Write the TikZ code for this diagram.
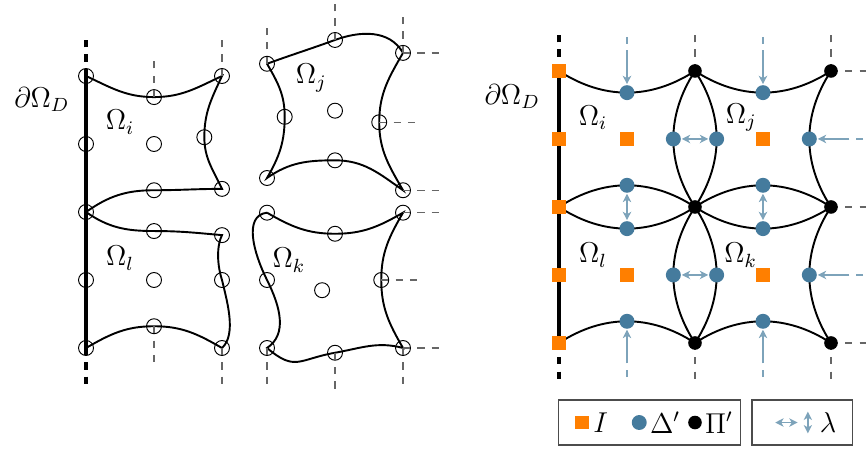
\documentclass[tikz,border=0pt]{standalone}
\usetikzlibrary{arrows.meta,positioning}
\definecolor{feorange}{HTML}{FF7F00}
\definecolor{feblue}{HTML}{457B9D}
\definecolor{muted}{HTML}{666666}

\begin{document}
\begin{tikzpicture}[font=\large,
    dofc/.style={circle, draw, thin, inner sep=0pt, minimum size=0.22cm},
    isq/.style={rectangle, fill=feorange, inner sep=0pt, minimum size=0.2cm},
    dualc/.style={circle, fill=feblue, inner sep=0pt, minimum size=0.22cm},
    primc/.style={circle, fill=black, inner sep=0pt, minimum size=0.2cm},
    side/.style={thick},
    dbnd/.style={line width=1.5pt},
    cutl/.style={dashed, muted, line width=0.6pt},
    lamarr/.style={{Stealth[length=3.5pt,width=3.5pt,inset=1pt]}-{Stealth[length=3.5pt,width=3.5pt,inset=1pt]},
                   feblue!70, line width=0.6pt},
    lamin/.style={-{Stealth[length=3.5pt,width=3.5pt,inset=1pt]}, feblue!70, line width=0.6pt,
                  dash pattern=on 0.1cm off 0.1cm on 3cm},
    legbox/.style={draw=black!70, line width=0.6pt, minimum height=0.66cm}]
  \useasboundingbox (-1.265,-1.471) rectangle (11.471,5.118);

  % left: overlapping subdomains Omega_i, Omega_l
  \foreach \n/\p in {itl/{0,4}, itm/{1,3.69}, itr/{2,4}, iml/{0,3}, imm/{1,3}, imr/{1.74,3.1},
                     ibl/{0,2}, ibm/{1,2.32}, ibr/{2,2.34}, ltm/{1,1.72}, ltr/{2,1.66}, lml/{0,1},
                     lmm/{1,1}, lmr/{2,1}, lbl/{0,0}, lbm/{1,0.32}, lbr/{2,0}}
    \node[dofc] (\n) at (\p) {};
  \draw[side] (itl.center) to[out=-25,in=180] (itm.center) to[out=0,in=-155] (itr.center)
              to[out=-115,in=90] (imr.center) to[out=-90,in=115] (ibr.center)
              to[out=180,in=0] (ibm.center) to[out=180,in=35] (ibl.center);
  \draw[side] (ibl.center) to[out=-35,in=180] (ltm.center) to[out=0,in=175] (ltr.center)
              .. controls (1.9,1.45) and (1.95,1.15) .. (lmr.center)
              .. controls (2.07,0.7) and (2.22,0.2) .. (lbr.center)
              to[out=150,in=0] (lbm.center) to[out=180,in=30] (lbl.center);
  \draw[dbnd] (itl.center) -- (lbl.center);
  \draw[dbnd, dashed] (itl.center) -- ++(0,0.57);
  \draw[dbnd, dashed] (lbl.center) -- ++(0,-0.59);
  \foreach \n/\d in {itm/{0,0.55}, itr/{0,0.57}, lbm/{0,-0.58}, lbr/{0,-0.59}}
    \draw[cutl] (\n.center) -- ++(\d);
  \node[anchor=east] (dirL) at (-0.12,3.65) {$\partial\Omega_D$};
  \node (labiL) at (0.5,3.32) {$\Omega_i$};
  \node (lablL) at (0.5,1.32) {$\Omega_l$};

  % left: overlapping subdomains Omega_j, Omega_k
  \begin{scope}[shift={(2.662,0)}]
    \foreach \n/\p in {jtl/{0,4.18}, jtm/{1,4.53}, jtr/{2,4.34}, jml/{0.26,3.4}, jmm/{1,3.49},
                       jmr/{1.65,3.32}, jbl/{0,2.5}, jbm/{1,2.76}, jbr/{2,2.32},
                       ktl/{0,1.99}, ktm/{1,1.68}, ktr/{2,1.99}, kml/{0,1}, kmm/{0.81,0.85},
                       kmr/{1.68,1}, kbl/{0,0}, kbm/{1,-0.07}, kbr/{2,0}}
      \node[dofc] (\n) at (\p) {};
    \draw[side] (jtl.center) to[out=20,in=200] (jtm.center) to[out=20,in=120] (jtr.center)
                to[out=-120,in=90] (jmr.center) to[out=-90,in=120] (jbr.center)
                to[out=145,in=0] (jbm.center) to[out=180,in=35] (jbl.center)
                to[out=60,in=-90] (jml.center) to[out=90,in=-60] (jtl.center);
    \draw[side] (ktl.center) to[out=-30,in=180] (ktm.center) to[out=0,in=-150] (ktr.center)
                to[out=-120,in=90] (kmr.center) to[out=-90,in=120] (kbr.center)
                to[out=165,in=10] (kbm.center) to[out=190,in=-40,looseness=1.4] (kbl.center)
                .. controls (0.3,0.2) and (0.2,0.6) .. (kml.center)
                .. controls (-0.2,1.4) and (-0.35,1.95) .. (ktl.center);
    \foreach \n/\d in {jtl/{0,0.57}, jtm/{0,0.6}, jtr/{0,0.59}, jtr/{0.55,0}, jmr/{0.57,0},
                       jbr/{0.55,0}, ktr/{0.55,0}, kmr/{0.57,0}, kbr/{0.55,0}, kbr/{0,-0.59},
                       kbm/{0,-0.59}, kbl/{0,-0.59}}
      \draw[cutl] (\n.center) -- ++(\d);
    \node (labjL) at (0.65,3.97) {$\Omega_j$};
    \node (labkL) at (0.32,1.29) {$\Omega_k$};
  \end{scope}

  % right: non-overlapping subdomains with dual/primal unknowns
  \begin{scope}[shift={(6.956,0.074)}]
    \foreach \x in {0,...,4} \foreach \y in {0,...,4} \coordinate (g\x\y) at (\x,\y);
    \draw[side] (g04) to[bend right=33] node[dualc] (it) {} (g24)
                      to[bend right=33] node[dualc] (ir) {} (g22);
    \draw[side] (g02) to[bend left=33] node[dualc] (ib) {} (g22);
    \draw[side] (g02) to[bend right=33] node[dualc] (lt) {} (g22);
    \draw[side] (g22) to[bend right=33] node[dualc] (lr) {} (g20);
    \draw[side] (g00) to[bend left=33] node[dualc] (lb) {} (g20);
    \draw[side] (g24) to[bend right=33] node[dualc] (jt) {} (g44)
                      to[bend right=33] node[dualc] (jr) {} (g42);
    \draw[side] (g24) to[bend left=33] node[dualc] (jl) {} (g22);
    \draw[side] (g22) to[bend left=33] node[dualc] (jb) {} (g42);
    \draw[side] (g22) to[bend right=33] node[dualc] (kt) {} (g42)
                      to[bend right=33] node[dualc] (kr) {} (g40);
    \draw[side] (g22) to[bend left=33] node[dualc] (kl) {} (g20);
    \draw[side] (g20) to[bend left=33] node[dualc] (kb) {} (g40);
    \draw[dbnd] (g00) -- (g04);
    \draw[dbnd, dashed] (g04) -- ++(0,0.57);
    \draw[dbnd, dashed] (g00) -- ++(0,-0.57);
    \foreach \n/\d in {g24/{0,0.57}, g44/{0,0.57}, g44/{0.57,0}, g42/{0.57,0}, g40/{0.57,0},
                       g40/{0,-0.57}, g20/{0,-0.57}}
      \draw[cutl] (\n) -- ++(\d);
    \foreach \y in {0,...,4} \node[isq] (b\y) at (g0\y) {};
    \foreach \p in {11,13,31,33} \node[isq] (c\p) at (g\p) {};
    \foreach \p in {20,22,24,40,42,44} \node[primc] (v\p) at (g\p) {};
    \foreach \a/\b in {ib/lt, jb/kt, ir/jl, lr/kl} \draw[lamarr] (\a) -- (\b);
    \foreach \n/\d in {it/{0,0.82}, jt/{0,0.82}, jr/{0.79,0}, kr/{0.79,0}, kb/{0,-0.82}, lb/{0,-0.82}}
      \draw[lamin] (\n) ++(\d) -- (\n);
    \node[anchor=east] (dirR) at (-0.16,3.62) {$\partial\Omega_D$};
    \node (labiR) at (0.5,3.31) {$\Omega_i$};
    \node (labjR) at (2.68,3.32) {$\Omega_j$};
    \node (lablR) at (0.5,1.29) {$\Omega_l$};
    \node (labkR) at (2.67,1.29) {$\Omega_k$};

    % legend
    \node[legbox, minimum width=2.68cm] (leg1) at (1.33,-1.17) {};
    \node[legbox, minimum width=1.48cm] (leg2) at (3.58,-1.17) {};
    \node[isq] (lgI) at (0.34,-1.17) {};
    \node[right=0pt of lgI, inner sep=1.5pt] (tI) {$I$};
    \node[dualc] (lgD) at (1.18,-1.17) {};
    \node[right=0pt of lgD, inner sep=1pt] (tD) {$\Delta'$};
    \node[primc] (lgP) at (2.0,-1.17) {};
    \node[right=0pt of lgP, inner sep=1pt] (tP) {$\Pi'$};
    \coordinate (lh1) at (3.18,-1.17); \coordinate (lh2) at (3.51,-1.17);
    \coordinate (lv1) at (3.66,-1.01); \coordinate (lv2) at (3.66,-1.33);
    \draw[lamarr] (lh1) -- (lh2); \draw[lamarr] (lv1) -- (lv2);
    \node[anchor=west, inner sep=0pt] (tlam) at (3.83,-1.17) {$\lambda$};
  \end{scope}
\end{tikzpicture}
\end{document}
